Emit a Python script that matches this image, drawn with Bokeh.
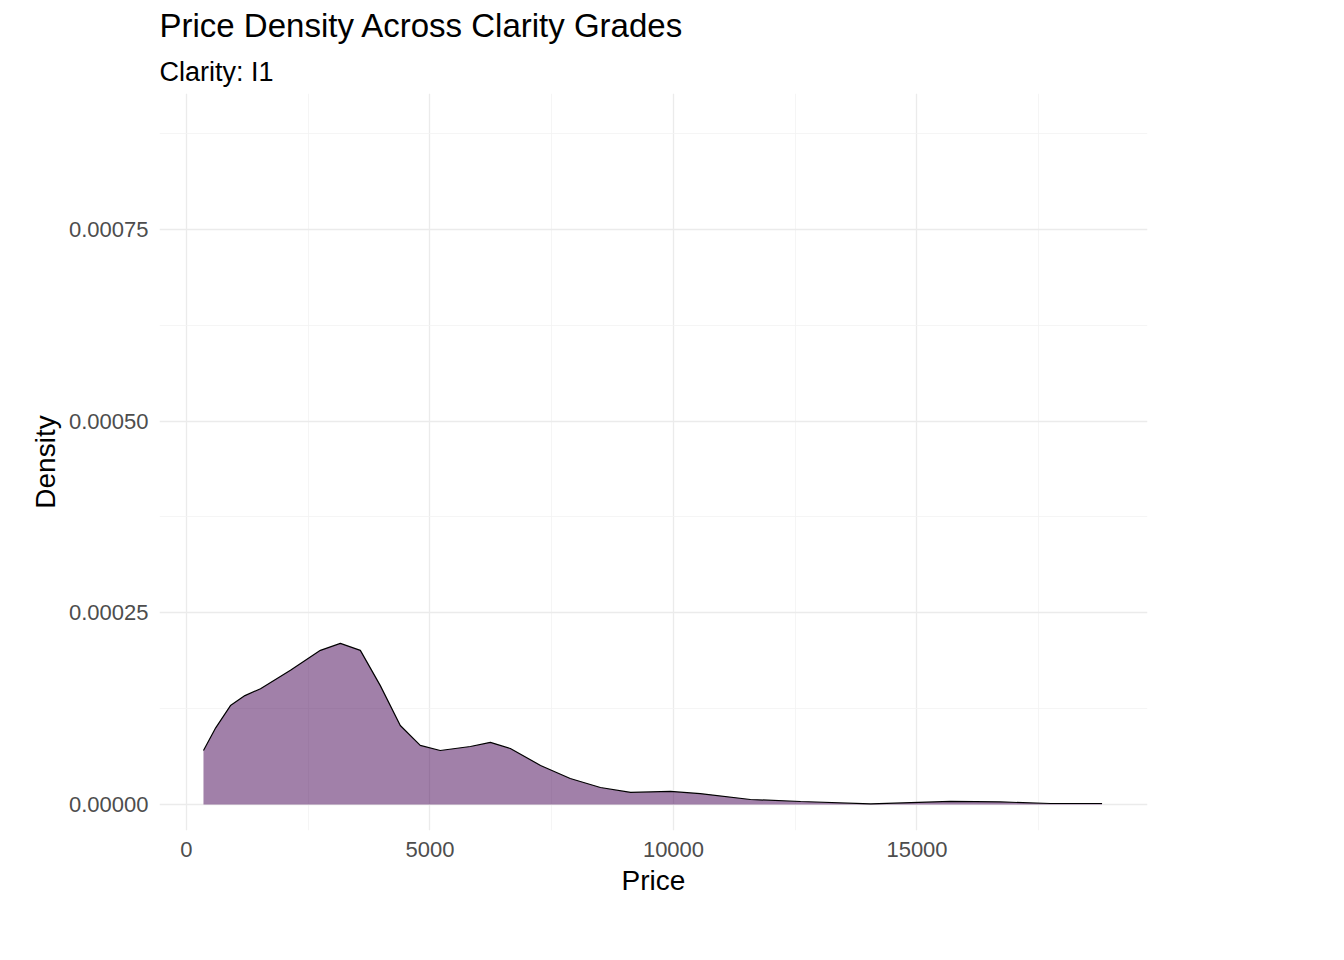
from bokeh.plotting import figure
from bokeh.models import Title, Legend, LegendItem, FixedTicker
from bokeh.embed import file_html
from bokeh.resources import INLINE
from bokeh.palettes import viridis

price = [349, 600, 903, 1200, 1520, 2135, 2750, 3160, 3570, 3980, 4390, 4800, 5210, 5830, 6240, 6650,
         7270, 7880, 8500, 9120, 9940, 10550, 11580, 12610, 14050, 15690, 16710, 17740, 18800]
density = [7.04e-5, 1.0e-4, 1.29e-4, 1.42e-4, 1.51e-4, 1.75e-4, 2.01e-4, 2.10e-4, 2.01e-4, 1.55e-4,
           1.03e-4, 7.7e-5, 7.04e-5, 7.56e-5, 8.1e-5, 7.3e-5, 5.09e-5, 3.39e-5, 2.22e-5, 1.57e-5,
           1.7e-5, 1.43e-5, 6.5e-6, 3.9e-6, 7e-7, 4e-6, 3.3e-6, 1.3e-6, 1.3e-6]
clarity = ["I1", "SI2", "SI1", "VS2", "VS1", "VVS2", "VVS1", "IF"]
colors = viridis(8)

FONT = "Liberation Sans"
p = figure(frame_width=988, frame_height=737,
           x_range=(-554, 19733), y_range=(-0.0000339, 0.000927),
           output_backend="svg", toolbar_location=None,
           min_border_left=159, min_border_right=0, min_border_top=0, min_border_bottom=92)
p.outline_line_color = None

xs = [price[0]] + price + [price[-1]]
ys = [0] + density + [0]
p.patch(xs, ys, fill_color=colors[0], fill_alpha=0.5, line_color=None)
p.line(price, density, line_color="black", line_width=1.2)

items = []
for c, col in zip(clarity, colors):
    r = p.quad(left=[], right=[], top=[], bottom=[], fill_color=col, fill_alpha=0.5,
               line_color="black", line_width=1.2)
    items.append(LegendItem(label=c, renderers=[r]))
leg = Legend(items=items, title="clarity", location="center", border_line_color=None,
             glyph_width=42, glyph_height=42, spacing=4, label_text_font=FONT,
             label_text_font_size="15pt", title_text_font=FONT, title_text_font_size="19pt",
             title_text_font_style="normal", label_text_color="black", title_text_color="black",
             padding=4, margin=44, title_standoff=10)
p.add_layout(leg, "right")

p.add_layout(Title(text="Clarity: I1", text_font=FONT, text_font_size="27px", text_color="black",
                   text_font_style="normal", offset=0, standoff=14), "above")
p.add_layout(Title(text="Price Density Across Clarity Grades", text_font=FONT, text_color="black",
                   text_font_size="33px", text_font_style="normal", offset=0, standoff=8), "above")

p.xaxis.ticker = [0, 5000, 10000, 15000]
p.yaxis.ticker = [0, 0.00025, 0.0005, 0.00075]
p.xaxis.major_label_overrides = {0: "0", 5000: "5000", 10000: "10000", 15000: "15000"}
p.yaxis.major_label_overrides = {0: "0.00000", 0.00025: "0.00025", 0.0005: "0.00050", 0.00075: "0.00075"}
for ax in (p.xaxis, p.yaxis):
    ax.axis_line_color = None
    ax.major_tick_line_color = None
    ax.minor_tick_line_color = None
    ax.major_label_text_font = FONT
    ax.major_label_text_font_size = "16.5pt"
    ax.major_label_text_color = "#4D4D4D"
    ax.axis_label_text_font = FONT
    ax.axis_label_text_font_size = "21pt"
    ax.axis_label_text_color = "black"
    ax.axis_label_text_font_style = "normal"
p.xaxis.axis_label = "Price"
p.yaxis.axis_label = "Density"
p.xgrid[0].ticker = FixedTicker(ticks=[0, 5000, 10000, 15000], minor_ticks=[2500, 7500, 12500, 17500])
p.ygrid[0].ticker = FixedTicker(ticks=[0, 0.00025, 0.0005, 0.00075], minor_ticks=[0.000125, 0.000375, 0.000625, 0.000875])
p.grid.grid_line_color = "#EBEBEB"
p.grid.grid_line_width = 1.3
p.grid.minor_grid_line_color = "#F2F2F2"
p.grid.minor_grid_line_width = 0.8

open("out.html", "w").write(file_html(p, INLINE))
